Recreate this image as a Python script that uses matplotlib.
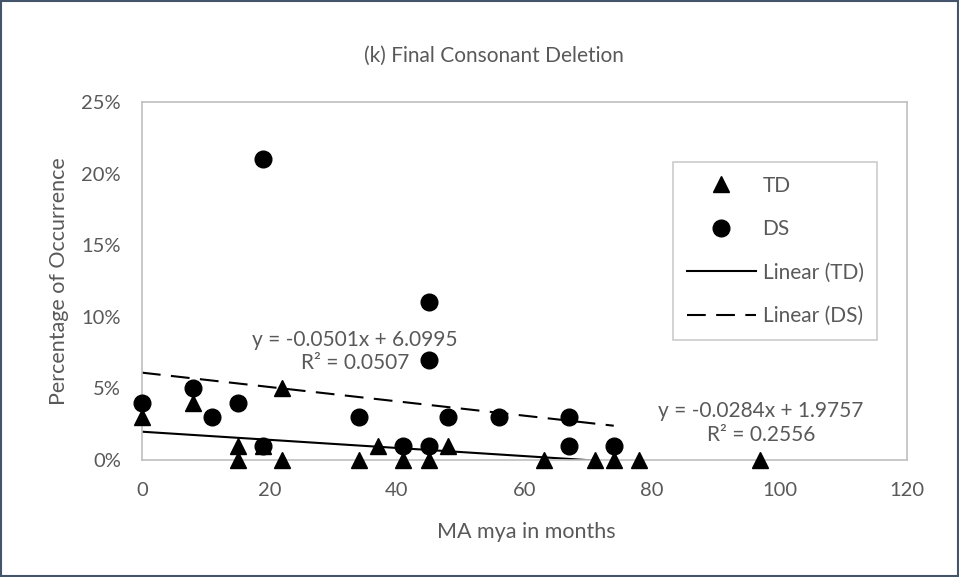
import numpy as np
import matplotlib
matplotlib.use("Agg")
import matplotlib.pyplot as plt
from matplotlib.patches import Rectangle

plt.rcParams['font.family'] = ['Lato', 'DejaVu Sans']

# TD (triangles)
td_x = [0, 8, 15, 15, 19, 22, 22, 34, 37, 41, 45, 48, 63, 71, 74, 78, 97]
td_y = [3, 4, 1, 0, 1, 5, 0, 0, 1, 0, 0, 1, 0, 0, 0, 0, 0]

# DS (circles)
ds_x = [0, 8, 11, 15, 19, 19, 34, 41, 45, 45, 45, 48, 56, 67, 67, 74]
ds_y = [4, 5, 3, 4, 21, 1, 3, 1, 11, 7, 1, 3, 3, 3, 1, 1]

# trendline coefficients as printed on the chart
td_fit = (-0.0284, 1.9757, 0.2556)
ds_fit = (-0.0501, 6.0995, 0.0507)

grey = '#595959'
fig = plt.figure(figsize=(9.59, 5.77), dpi=100)
fig.patches.append(Rectangle((0.001, 0.001), 0.998, 0.997, transform=fig.transFigure,
                             fill=False, edgecolor='#44546A', linewidth=1.5))
ax = fig.add_axes([0.148, 0.2028, 0.7978, 0.6204])

ax.plot(td_x, td_y, linestyle='none', marker='^', color='black', markersize=11,
        clip_on=False, zorder=3, label='TD')
ax.plot(ds_x, ds_y, linestyle='none', marker='o', color='black', markersize=12,
        clip_on=False, zorder=3, label='DS')

xt = np.array([min(td_x), max(td_x)])
ax.plot(xt, td_fit[0] * xt + td_fit[1], color='black', linewidth=1.5, label='Linear (TD)')
xd = np.array([min(ds_x), max(ds_x)])
ax.plot(xd, ds_fit[0] * xd + ds_fit[1], color='black', linewidth=1.5,
        linestyle=(0, (9, 5)), label='Linear (DS)')

ax.set_xlim(0, 120)
ax.set_ylim(0, 25)
ax.set_xticks(range(0, 121, 20))
ax.set_yticks(range(0, 26, 5))
ax.set_yticklabels([f'{v}%' for v in range(0, 26, 5)])
ax.tick_params(length=0, labelsize=14.5, colors=grey)
ax.tick_params(axis='y', pad=15)
ax.tick_params(axis='x', pad=16)
for s in ax.spines.values():
    s.set_color('#BFBFBF')
    s.set_linewidth(1.2)

ax.set_xlabel('MA mya in months', fontsize=15.5, color=grey)
ax.set_ylabel('Percentage of Occurrence', fontsize=15.5, color=grey)
ax.xaxis.set_label_coords(0.503, -0.173)
ax.yaxis.set_label_coords(-0.0955, 0.5)
fig.text(0.515, 0.903, '(k) Final Consonant Deletion', ha='center', va='center',
         fontsize=15, color=grey)

ax.text(33.4, 7.6, f'y = {ds_fit[0]}x + {ds_fit[1]}\nR² = {ds_fit[2]}', ha='center',
        va='center', fontsize=15, color=grey, linespacing=1.2)
ax.text(97.1, 2.55, f'y = {td_fit[0]}x + {td_fit[1]}\nR² = {td_fit[2]}', ha='center',
        va='center', fontsize=15, color=grey, linespacing=1.25)

leg = ax.legend(loc='upper left', bbox_to_anchor=(0.7018, 0.7192), bbox_transform=fig.transFigure,
                fontsize=15, frameon=True, fancybox=False, edgecolor='#BFBFBF',
                labelspacing=1.13, handlelength=3.35, handletextpad=0.3,
                borderpad=0.65, borderaxespad=0)
leg.get_frame().set_linewidth(1.2)
for t in leg.get_texts():
    t.set_color(grey)

fig.savefig('out.png', dpi=100)
